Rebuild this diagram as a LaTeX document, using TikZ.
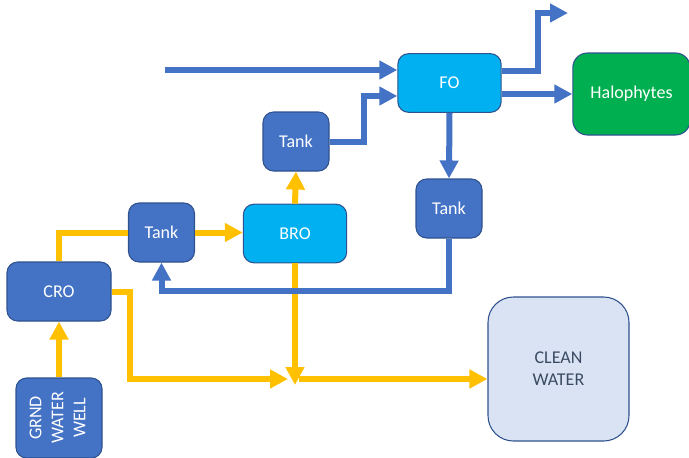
\documentclass[tikz,border=0pt]{standalone}
\usepackage{fontspec}
\setmainfont{Carlito}
\usepackage{tikz}
\usetikzlibrary{arrows.meta, positioning, calc}

\definecolor{flowblue}{HTML}{4472C4}
\definecolor{edgeblue}{HTML}{2F528F}
\definecolor{roblue}{HTML}{00B0F0}
\definecolor{plantgreen}{HTML}{00B050}
\definecolor{brine}{HTML}{FFC000}
\definecolor{cleanfill}{HTML}{DAE3F3}
\definecolor{cleantext}{HTML}{3B4B63}

\begin{document}
\begin{tikzpicture}[
    x=0.75pt, y=-0.75pt,
    unit/.style={rectangle, rounded corners=8pt, draw=edgeblue, line width=0.8pt, fill=flowblue,
                 text=white, align=center, font=\fontsize{13.5}{16.5}\selectfont, inner sep=0pt},
    tank/.style={unit, minimum width=49.5pt, minimum height=44.25pt},
    memb/.style={unit, fill=roblue, minimum width=77.5pt, minimum height=44pt},
    plant/.style={unit, fill=plantgreen, rounded corners=11pt, minimum width=88pt, minimum height=61.5pt},
    store/.style={unit, fill=cleanfill, text=cleantext, rounded corners=19pt,
                  minimum width=105.75pt, minimum height=108pt},
    water/.style={line width=4.5pt, draw=brine, -{Triangle[length=13.5pt, width=13.5pt]}},
    waterline/.style={line width=4.5pt, draw=brine},
    feed/.style={line width=4.5pt, draw=flowblue, -{Triangle[length=13.5pt, width=13.5pt]}}
]
\useasboundingbox (0,0) rectangle (689,457);

\node[unit, minimum width=64.5pt, minimum height=60pt] (well) at (59,418)
    {\rotatebox{90}{\begin{tabular}{@{}c@{}}GRND\\WATER\\WELL\end{tabular}}};
\node[unit, minimum width=78pt, minimum height=44.25pt] (cro) at (59,291.5) {CRO};
\node[tank] (tank1) at (161.5,232.5) {Tank};
\node[memb] (bro) at (295,233.5) {BRO};
\node[tank] (tank2) at (296,141.5) {Tank};
\node[memb] (fo) at (449.5,83) {FO};
\node[tank] (tank3) at (449,208.5) {Tank};
\node[plant] (halo) at (631.5,94) {Halophytes};
\node[store] (clean) at (558.5,369) {CLEAN\\WATER};

\coordinate (inlet) at (165,70);
\coordinate (outlet) at (568,13);
\coordinate (mixw) at (288,379);
\coordinate (mixs) at (295,385);
\coordinate (mixe) at (299,379);

\draw[water] (well.north) -- (cro.south);
\draw[waterline] (cro.north) |- (tank1.west);
\draw[water] (tank1.east) -- (tank1.east -| bro.west);
\draw[water] (bro.north) -- (tank2.south);
\draw[water] (cro.east) -- ++(18,0) |- (mixw);
\draw[water] (bro.south) -- (mixs);
\draw[water] (mixe) -- (mixe -| clean.west);

\draw[feed] (inlet) -- (inlet -| fo.west);
\draw[feed] (tank2.east) -- ++(34,0) |- ($(fo.west)+(0,13)$);
\draw[feed] ($(fo.east)+(0,-12)$) -- ++(36,0) |- (outlet);
\draw[feed] ($(fo.east)+(0,11)$) -- (halo.west);
\draw[feed] (fo.south) -- (tank3.north);
\draw[feed] (tank3.south) -- ++(0,52) -| (tank1.south);
\end{tikzpicture}
\end{document}
